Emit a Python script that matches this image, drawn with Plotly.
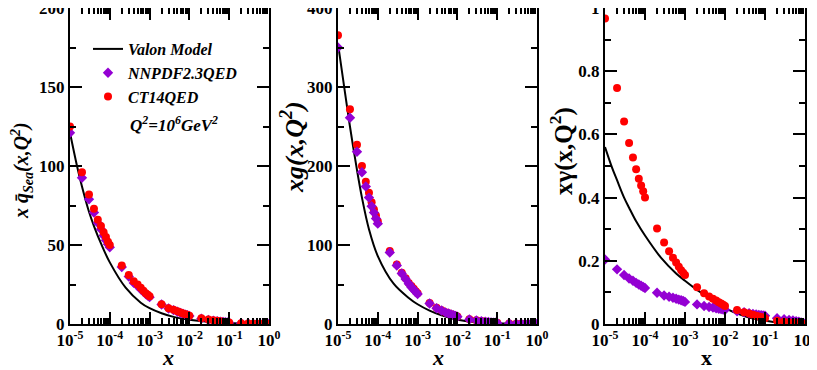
import plotly.graph_objects as go

# x grid of the PDF tables
x_pts = [1e-5, 2e-5, 3e-5, 4e-5, 5e-5, 6e-5, 7e-5, 8e-5, 9e-5,
         1e-4, 2e-4, 3e-4, 4e-4, 5e-4, 6e-4, 7e-4, 8e-4, 9e-4,
         1e-3, 2e-3, 3e-3, 4e-3, 5e-3, 6e-3, 7e-3, 8e-3, 9e-3,
         1e-2, 2e-2, 3e-2, 4e-2, 5e-2, 6e-2, 7e-2, 8e-2, 9e-2,
         0.1, 0.2, 0.3, 0.4, 0.5, 0.6, 0.7, 0.8, 0.9, 1.0]

# sea quark
sea_ct14 = [125, 96, 82, 73, 66, 62, 58, 55, 52,
            50, 37, 31, 27, 25, 23, 21, 19.5, 18.5,
            17.5, 12.5, 10, 9, 8, 7.2, 6.6, 6.1, 5.7,
            5.3, 3.6, 2.8, 2.3, 2.0, 1.7, 1.5, 1.3, 1.2,
            1.0, 0.55, 0.35, 0.22, 0.14, 0.08, 0.05, 0.02, 0.01, 0.0]
sea_nnpdf = [121, 92.5, 79, 70.5, 64, 60, 56, 53, 50.5,
             48.5, 36, 30, 26, 24, 22, 20.5, 19, 18,
             17, 12.3, 9.8, 8.8, 7.8, 7, 6.4, 5.9, 5.5,
             5.1, 3.4, 2.6, 2.1, 1.8, 1.5, 1.3, 1.15, 1.0,
             0.85, 0.45, 0.28, 0.17, 0.1, 0.06, 0.035, 0.015, 0.006, 0.0]

# gluon
glu_ct14 = [365.6, 271.7, 227, 200, 180, 166, 154, 145, 137.5,
            130, 92.5, 75.3, 65, 58, 52, 48, 44.5, 41.5,
            39, 26.5, 20.5, 17.3, 15, 13.5, 12.3, 11.3, 10.4,
            9.6, 6, 4.6, 3.7, 3.1, 2.6, 2.2, 1.9, 1.7,
            1.5, 0.7, 0.4, 0.25, 0.15, 0.09, 0.05, 0.02, 0.01, 0.0]
glu_nnpdf = [350, 261, 218, 192, 174, 160, 149, 141, 133.4,
             127, 90.5, 74, 64, 57, 51, 46.5, 43.5, 40.5,
             38, 26, 20, 17, 14.7, 13.2, 12, 11, 10.1,
             9.3, 5.8, 4.4, 3.6, 3.0, 2.5, 2.1, 1.8, 1.6,
             1.4, 0.65, 0.38, 0.24, 0.15, 0.09, 0.05, 0.025, 0.01, 0.0]

# photon
pho_ct14 = [0.967, 0.747, 0.641, 0.573, 0.527, 0.49, 0.46, 0.438, 0.42,
            0.40, 0.302, 0.258, 0.23, 0.21, 0.195, 0.181, 0.17, 0.162,
            0.155, 0.116, 0.097, 0.087, 0.080, 0.074, 0.069, 0.065, 0.061,
            0.057, 0.044, 0.037, 0.033, 0.029, 0.026, 0.024, 0.022, 0.020,
            0.018, 0.010, 0.007, 0.005, 0.004, 0.003, 0.002, 0.001, 0.0005, 0.0]
pho_nnpdf = [0.204, 0.173, 0.155, 0.144, 0.137, 0.130, 0.125, 0.121, 0.117,
             0.114, 0.099, 0.090, 0.086, 0.083, 0.080, 0.077, 0.075, 0.073,
             0.070, 0.062, 0.057, 0.054, 0.052, 0.050, 0.048, 0.047, 0.046,
             0.045, 0.040, 0.037, 0.034, 0.032, 0.030, 0.029, 0.028, 0.027,
             0.026, 0.018, 0.015, 0.013, 0.011, 0.009, 0.007, 0.005, 0.003, 0.001]

# valon model curves
x_valon = [1e-5, 1.5e-5, 2e-5, 3e-5, 4e-5, 6e-5, 1e-4, 2.5e-4, 6e-4,
           1e-3, 2e-3, 4e-3, 1e-2, 3e-2, 0.1, 0.3, 1.0]
sea_valon = [121, 100, 87, 71, 62, 51, 39, 23, 13.5,
             10, 6.8, 4.5, 2.7, 1.4, 0.6, 0.15, 0]
glu_valon = [355, 293, 250, 195, 160, 120, 86, 51, 33,
             25, 17, 11, 5.5, 2.5, 1.0, 0.3, 0]
pho_valon = [0.56, 0.495, 0.455, 0.40, 0.368, 0.325, 0.28, 0.21, 0.16,
             0.137, 0.108, 0.083, 0.05, 0.025, 0.01, 0.003, 0]

decades = [1e-5, 1e-4, 1e-3, 1e-2, 1e-1, 1]
decade_labels = ['-5', '-4', '-3', '-2', '-1', '0']
minor_x = [m * d for d in decades[:-1] for m in range(2, 10)]

FONT = 'Liberation Serif'
RED = '#ff0000'
PURPLE = '#9400d3'

# the page body adds an 8px margin, so the figure is a bit smaller than the window
PAGE_OFF = 8
FIG_W, FIG_H = 809, 362
M_L, M_R, M_T, M_B = 62, 12, 0, 46
PLOT_W = FIG_W - M_L - M_R
PLOT_H = FIG_H - M_T - M_B

fig = go.Figure()

panels = [
    ('x', 'y', sea_valon, sea_nnpdf, sea_ct14, True),
    ('x2', 'y2', glu_valon, glu_nnpdf, glu_ct14, False),
    ('x3', 'y3', pho_valon, pho_nnpdf, pho_ct14, False),
]
for xa, ya, valon, nnpdf, ct14, first in panels:
    fig.add_trace(go.Scatter(x=x_valon, y=valon, mode='lines',
                             line=dict(color='black', width=2, shape='spline'),
                             name='<b><i>Valon Model</i></b>',
                             showlegend=first, xaxis=xa, yaxis=ya))
    pts = [
        go.Scatter(x=x_pts, y=nnpdf, mode='markers',
                   marker=dict(symbol='diamond', size=8, color=PURPLE),
                   name='<b><i>NNPDF2.3QED</i></b>', showlegend=first,
                   xaxis=xa, yaxis=ya),
        go.Scatter(x=x_pts, y=ct14, mode='markers',
                   marker=dict(symbol='circle', size=8, color=RED),
                   name='<b><i>CT14QED</i></b>', showlegend=first,
                   xaxis=xa, yaxis=ya),
    ]
    if xa == 'x2':
        pts = pts[::-1]
    for p in pts:
        fig.add_trace(p)

domains = [[0, 0.2707], [0.3646, 0.6354], [0.7279, 1]]
yranges = [[0, 200], [0, 400], [0, 1]]
ydticks = [50, 100, 0.2]

layout = dict()
for i in range(3):
    sfx = '' if i == 0 else str(i + 1)
    layout['xaxis' + sfx] = dict(
        type='log', range=[-5, 0], domain=domains[i],
        anchor='y' + sfx, automargin=False,
        tickvals=decades,
        ticktext=['<b>10<sup>%s</sup></b>' % t for t in decade_labels],
        ticks='inside', ticklen=12, tickwidth=2, tickcolor='black',
        minor=dict(tickvals=minor_x, ticks='inside', ticklen=6,
                   tickwidth=1.5, tickcolor='black', showgrid=False),
        showline=True, linewidth=2, linecolor='black', mirror='allticks',
        showgrid=False, zeroline=False, ticklabeloverflow='allow',
        tickfont=dict(family=FONT, size=17, color='black'),
    )
    layout['yaxis' + sfx] = dict(
        range=yranges[i], domain=[0, 1], anchor='x' + sfx,
        automargin=False, dtick=ydticks[i],
        ticks='inside', ticklen=12, tickwidth=2, tickcolor='black',
        minor=dict(dtick=ydticks[i] / 2, ticks='inside', ticklen=6,
                   tickwidth=1.5, tickcolor='black', showgrid=False),
        showline=True, linewidth=2, linecolor='black', mirror='allticks',
        showgrid=False, zeroline=False, ticklabeloverflow='allow',
        tickfont=dict(family=FONT, size=17, color='black', weight='bold'),
    )

fig.update_layout(**layout)


# page pixel -> paper fraction
def px_x(p):
    return (p - PAGE_OFF - M_L) / PLOT_W


def px_y(p):
    return (M_T + PLOT_H - (p - PAGE_OFF)) / PLOT_H


titles = [
    # text, centre x px, centre y px, angle, size
    ('<b><i>x q\u0304<sub>Sea</sub>(x,Q<sup>2</sup>)</i></b>', 22, 170, -90, 20),
    ('<b><i>xg(x,Q<sup>2</sup>)</i></b>', 292, 147, -90, 26),
    ('<b>x\u03b3(x,Q<sup>2</sup>)</b>', 561, 151, -90, 25),
    ('<b><i>x</i></b>', 168, 357, 0, 22),
    ('<b><i>x</i></b>', 438, 357, 0, 22),
    ('<b>x</b>', 706, 357, 0, 22),
]
annotations = []
for text, cx, cy, ang, size in titles:
    annotations.append(dict(text=text, xref='paper', yref='paper',
                            x=px_x(cx), y=px_y(cy), xanchor='center',
                            yanchor='middle', textangle=ang, showarrow=False,
                            font=dict(family=FONT, size=size, color='black')))
annotations.append(dict(
    text='<b><i>Q<sup>2</sup>=10<sup>6</sup>GeV<sup>2</sup></i></b>',
    xref='paper', yref='paper', x=px_x(128), y=px_y(124),
    xanchor='left', yanchor='middle', showarrow=False,
    font=dict(family=FONT, size=17, color='black')))

fig.update_layout(
    width=FIG_W, height=FIG_H,
    margin=dict(l=M_L, r=M_R, t=M_T, b=M_B),
    plot_bgcolor='white', paper_bgcolor='white',
    showlegend=True,
    legend=dict(x=px_x(88), y=px_y(32), xanchor='left', yanchor='top',
                bgcolor='rgba(0,0,0,0)', tracegroupgap=0,
                font=dict(family=FONT, size=16, color='black')),
    annotations=annotations,
)

fig.write_html('out.html')
